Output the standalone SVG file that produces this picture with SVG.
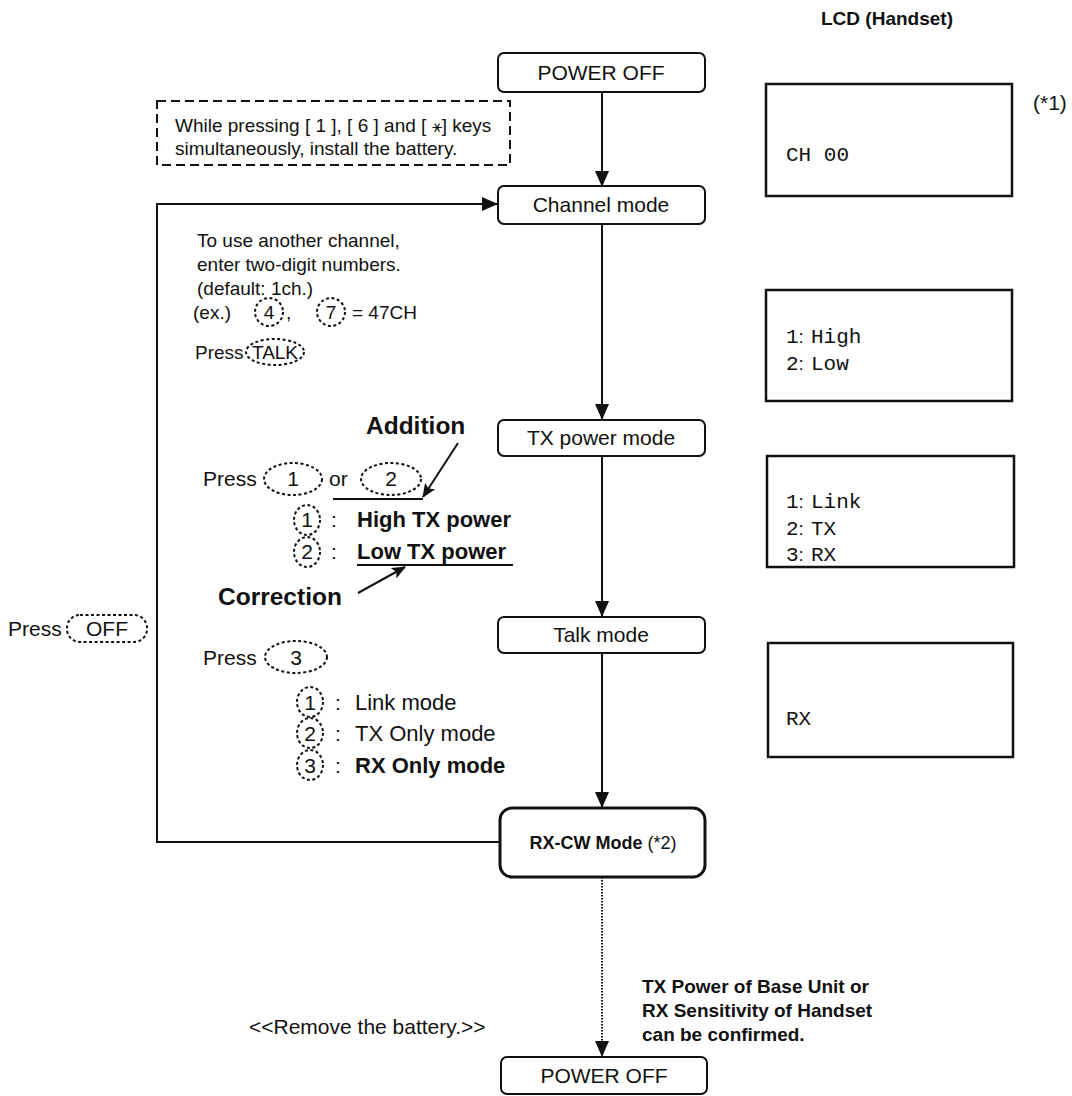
<svg xmlns="http://www.w3.org/2000/svg" width="1072" height="1096" viewBox="0 0 1072 1096">
<style>
text{font-family:"Liberation Sans",Arial,sans-serif;font-size:19px;fill:#111}
.b{font-weight:bold}
.big{font-size:24.5px;font-weight:bold}
.m{font-size:21px}
.l{font-size:22px}
.node{fill:#fff;stroke:#111;stroke-width:2}
.lbl{font-size:21px;text-anchor:middle}
.mono{font-family:"Liberation Mono","Courier New",monospace;font-size:21px}
.col{font-family:"Liberation Sans",Arial,sans-serif}
.lcd{fill:#fff;stroke:#111;stroke-width:2.5}
.key{fill:none;stroke:#111;stroke-width:2;stroke-dasharray:3 2.5}
.ln{fill:none;stroke:#111;stroke-width:2}
.c{text-anchor:middle}
</style>
<defs>
<marker id="ah" markerWidth="16" markerHeight="14" refX="15" refY="7" orient="auto" markerUnits="userSpaceOnUse">
<path d="M0,0 L16,7 L0,14 Z" fill="#111"/>
</marker>
<marker id="ahs" markerWidth="14" markerHeight="12" refX="13" refY="6" orient="auto" markerUnits="userSpaceOnUse">
<path d="M0,0 L14,6 L0,12 L3,6 Z" fill="#111"/>
</marker>
</defs>

<g id="connectors">
<line class="ln" x1="602" y1="92" x2="602" y2="186" marker-end="url(#ah)"/>
<line class="ln" x1="602" y1="224" x2="602" y2="419" marker-end="url(#ah)"/>
<line class="ln" x1="602" y1="456" x2="602" y2="616" marker-end="url(#ah)"/>
<line class="ln" x1="602" y1="653" x2="602" y2="807" marker-end="url(#ah)"/>
<line x1="602" y1="877" x2="602" y2="1056" stroke="#111" stroke-width="2" stroke-dasharray="1.5 1.5" marker-end="url(#ah)"/>
<polyline class="ln" points="500,842 157,842 157,204 497,204" marker-end="url(#ah)"/>
<line x1="458" y1="443" x2="423" y2="497" stroke="#111" stroke-width="2" marker-end="url(#ahs)"/>
<line x1="358" y1="593" x2="405" y2="567" stroke="#111" stroke-width="2" marker-end="url(#ahs)"/>
</g>

<g id="title"><text class="b c" x="887" y="25">LCD (Handset)</text></g>

<g id="power-off-top">
<rect class="node" x="498" y="53" width="207" height="39" rx="6"/>
<text class="lbl" x="601" y="80">POWER OFF</text>
</g>

<g id="install-note">
<rect x="157" y="101" width="353" height="64" fill="none" stroke="#111" stroke-width="2" stroke-dasharray="9 5"/>
<text x="175" y="132">While pressing [ 1 ], [ 6 ] and [ <tspan font-family="DejaVu Sans" font-size="17">⚹</tspan>] keys</text>
<text x="175" y="155">simultaneously, install the battery.</text>
</g>

<g id="channel-mode">
<rect class="node" x="498" y="186" width="207" height="38" rx="6"/>
<text class="lbl" x="601" y="212">Channel mode</text>
</g>

<g id="channel-text">
<text x="197" y="247">To use another channel,</text>
<text x="197" y="271">enter two-digit numbers.</text>
<text x="197" y="295">(default: 1ch.)</text>
<text x="193" y="319">(ex.)</text>
<ellipse class="key" cx="269" cy="312" rx="14" ry="14"/>
<text class="c" x="269" y="319">4</text>
<text x="286" y="319">,</text>
<ellipse class="key" cx="331" cy="312" rx="14" ry="14"/>
<text class="c" x="331" y="319">7</text>
<text x="352" y="319">= 47CH</text>
<text x="195" y="359">Press</text>
<ellipse class="key" cx="275" cy="352" rx="29" ry="13"/>
<text class="c" x="275" y="359">TALK</text>
</g>

<g id="tx-power-mode">
<rect class="node" x="498" y="420" width="207" height="36" rx="6"/>
<text class="lbl" x="601" y="445">TX power mode</text>
</g>

<g id="tx-power-text">
<text class="big" x="366" y="434">Addition</text>
<text class="m" x="203" y="486">Press</text>
<ellipse class="key" cx="293" cy="479" rx="29" ry="16"/>
<text class="m c" x="293" y="486">1</text>
<text class="m" x="329" y="486">or</text>
<ellipse class="key" cx="391" cy="479" rx="30" ry="16"/>
<text class="m c" x="391" y="486">2</text>
<line class="ln" x1="333" y1="499" x2="423" y2="499"/>
<ellipse class="key" cx="307" cy="520" rx="13" ry="15"/>
<text class="m c" x="307" y="527">1</text>
<text class="m" x="331" y="527">:</text>
<text class="l b" x="357" y="527">High TX power</text>
<ellipse class="key" cx="307" cy="552" rx="13" ry="15"/>
<text class="m c" x="307" y="559">2</text>
<text class="m" x="331" y="559">:</text>
<text class="l b" x="357" y="559">Low TX power</text>
<line class="ln" x1="357" y1="565" x2="513" y2="565"/>
<text class="big" x="218" y="605">Correction</text>
</g>

<g id="press-off">
<text class="m" x="8" y="636">Press</text>
<rect class="key" x="67" y="615" width="80" height="27" rx="13"/>
<text class="m c" x="107" y="636">OFF</text>
</g>

<g id="talk-mode">
<rect class="node" x="498" y="617" width="207" height="36" rx="6"/>
<text class="lbl" x="601" y="642">Talk mode</text>
</g>

<g id="talk-text">
<text class="m" x="203" y="665">Press</text>
<ellipse class="key" cx="296" cy="657" rx="31" ry="16"/>
<text class="m c" x="296" y="665">3</text>
<ellipse class="key" cx="310" cy="702" rx="13" ry="15"/>
<text class="m c" x="310" y="710">1</text>
<text class="m" x="335" y="710">:</text>
<text class="l" x="355" y="710">Link mode</text>
<ellipse class="key" cx="310" cy="733" rx="13" ry="15"/>
<text class="m c" x="310" y="741">2</text>
<text class="m" x="335" y="741">:</text>
<text class="l" x="355" y="741">TX Only mode</text>
<ellipse class="key" cx="310" cy="765" rx="13" ry="15"/>
<text class="m c" x="310" y="773">3</text>
<text class="m" x="335" y="773">:</text>
<text class="l b" x="355" y="773">RX Only mode</text>
</g>

<g id="rx-cw-mode">
<rect x="500" y="808" width="205" height="69" rx="12" fill="#fff" stroke="#111" stroke-width="3"/>
<text class="c" x="603" y="849" style="font-size:18px"><tspan font-weight="bold">RX-CW Mode</tspan> (*2)</text>
</g>

<g id="remove-text">
<text class="m" x="249" y="1034">&lt;&lt;Remove the battery.&gt;&gt;</text>
</g>

<g id="confirm-text">
<text class="b" x="642" y="993">TX Power of Base Unit or</text>
<text class="b" x="642" y="1017">RX Sensitivity of Handset</text>
<text class="b" x="642" y="1041">can be confirmed.</text>
</g>

<g id="power-off-bottom">
<rect class="node" x="501" y="1057" width="206" height="37" rx="6"/>
<text class="lbl" x="604" y="1083">POWER OFF</text>
</g>

<g id="lcd1">
<rect class="lcd" x="766" y="84" width="246" height="112"/>
<text class="mono" x="786" y="161">CH 00</text>
<text class="m" x="1033" y="110">(*1)</text>
</g>
<g id="lcd2">
<rect class="lcd" x="766" y="290" width="246" height="111"/>
<text class="mono" x="786" y="343">1<tspan class="col" font-size="19">:</tspan><tspan x="811">High</tspan></text>
<text class="mono" x="786" y="370">2<tspan class="col" font-size="19">:</tspan><tspan x="811">Low</tspan></text>
</g>
<g id="lcd3">
<rect class="lcd" x="767" y="456" width="247" height="111"/>
<text class="mono" x="786" y="508">1<tspan class="col" font-size="19">:</tspan><tspan x="811">Link</tspan></text>
<text class="mono" x="786" y="535">2<tspan class="col" font-size="19">:</tspan><tspan x="811">TX</tspan></text>
<text class="mono" x="786" y="561">3<tspan class="col" font-size="19">:</tspan><tspan x="811">RX</tspan></text>
</g>
<g id="lcd4">
<rect class="lcd" x="768" y="643" width="245" height="114"/>
<text class="mono" x="786" y="725">RX</text>
</g>
</svg>
